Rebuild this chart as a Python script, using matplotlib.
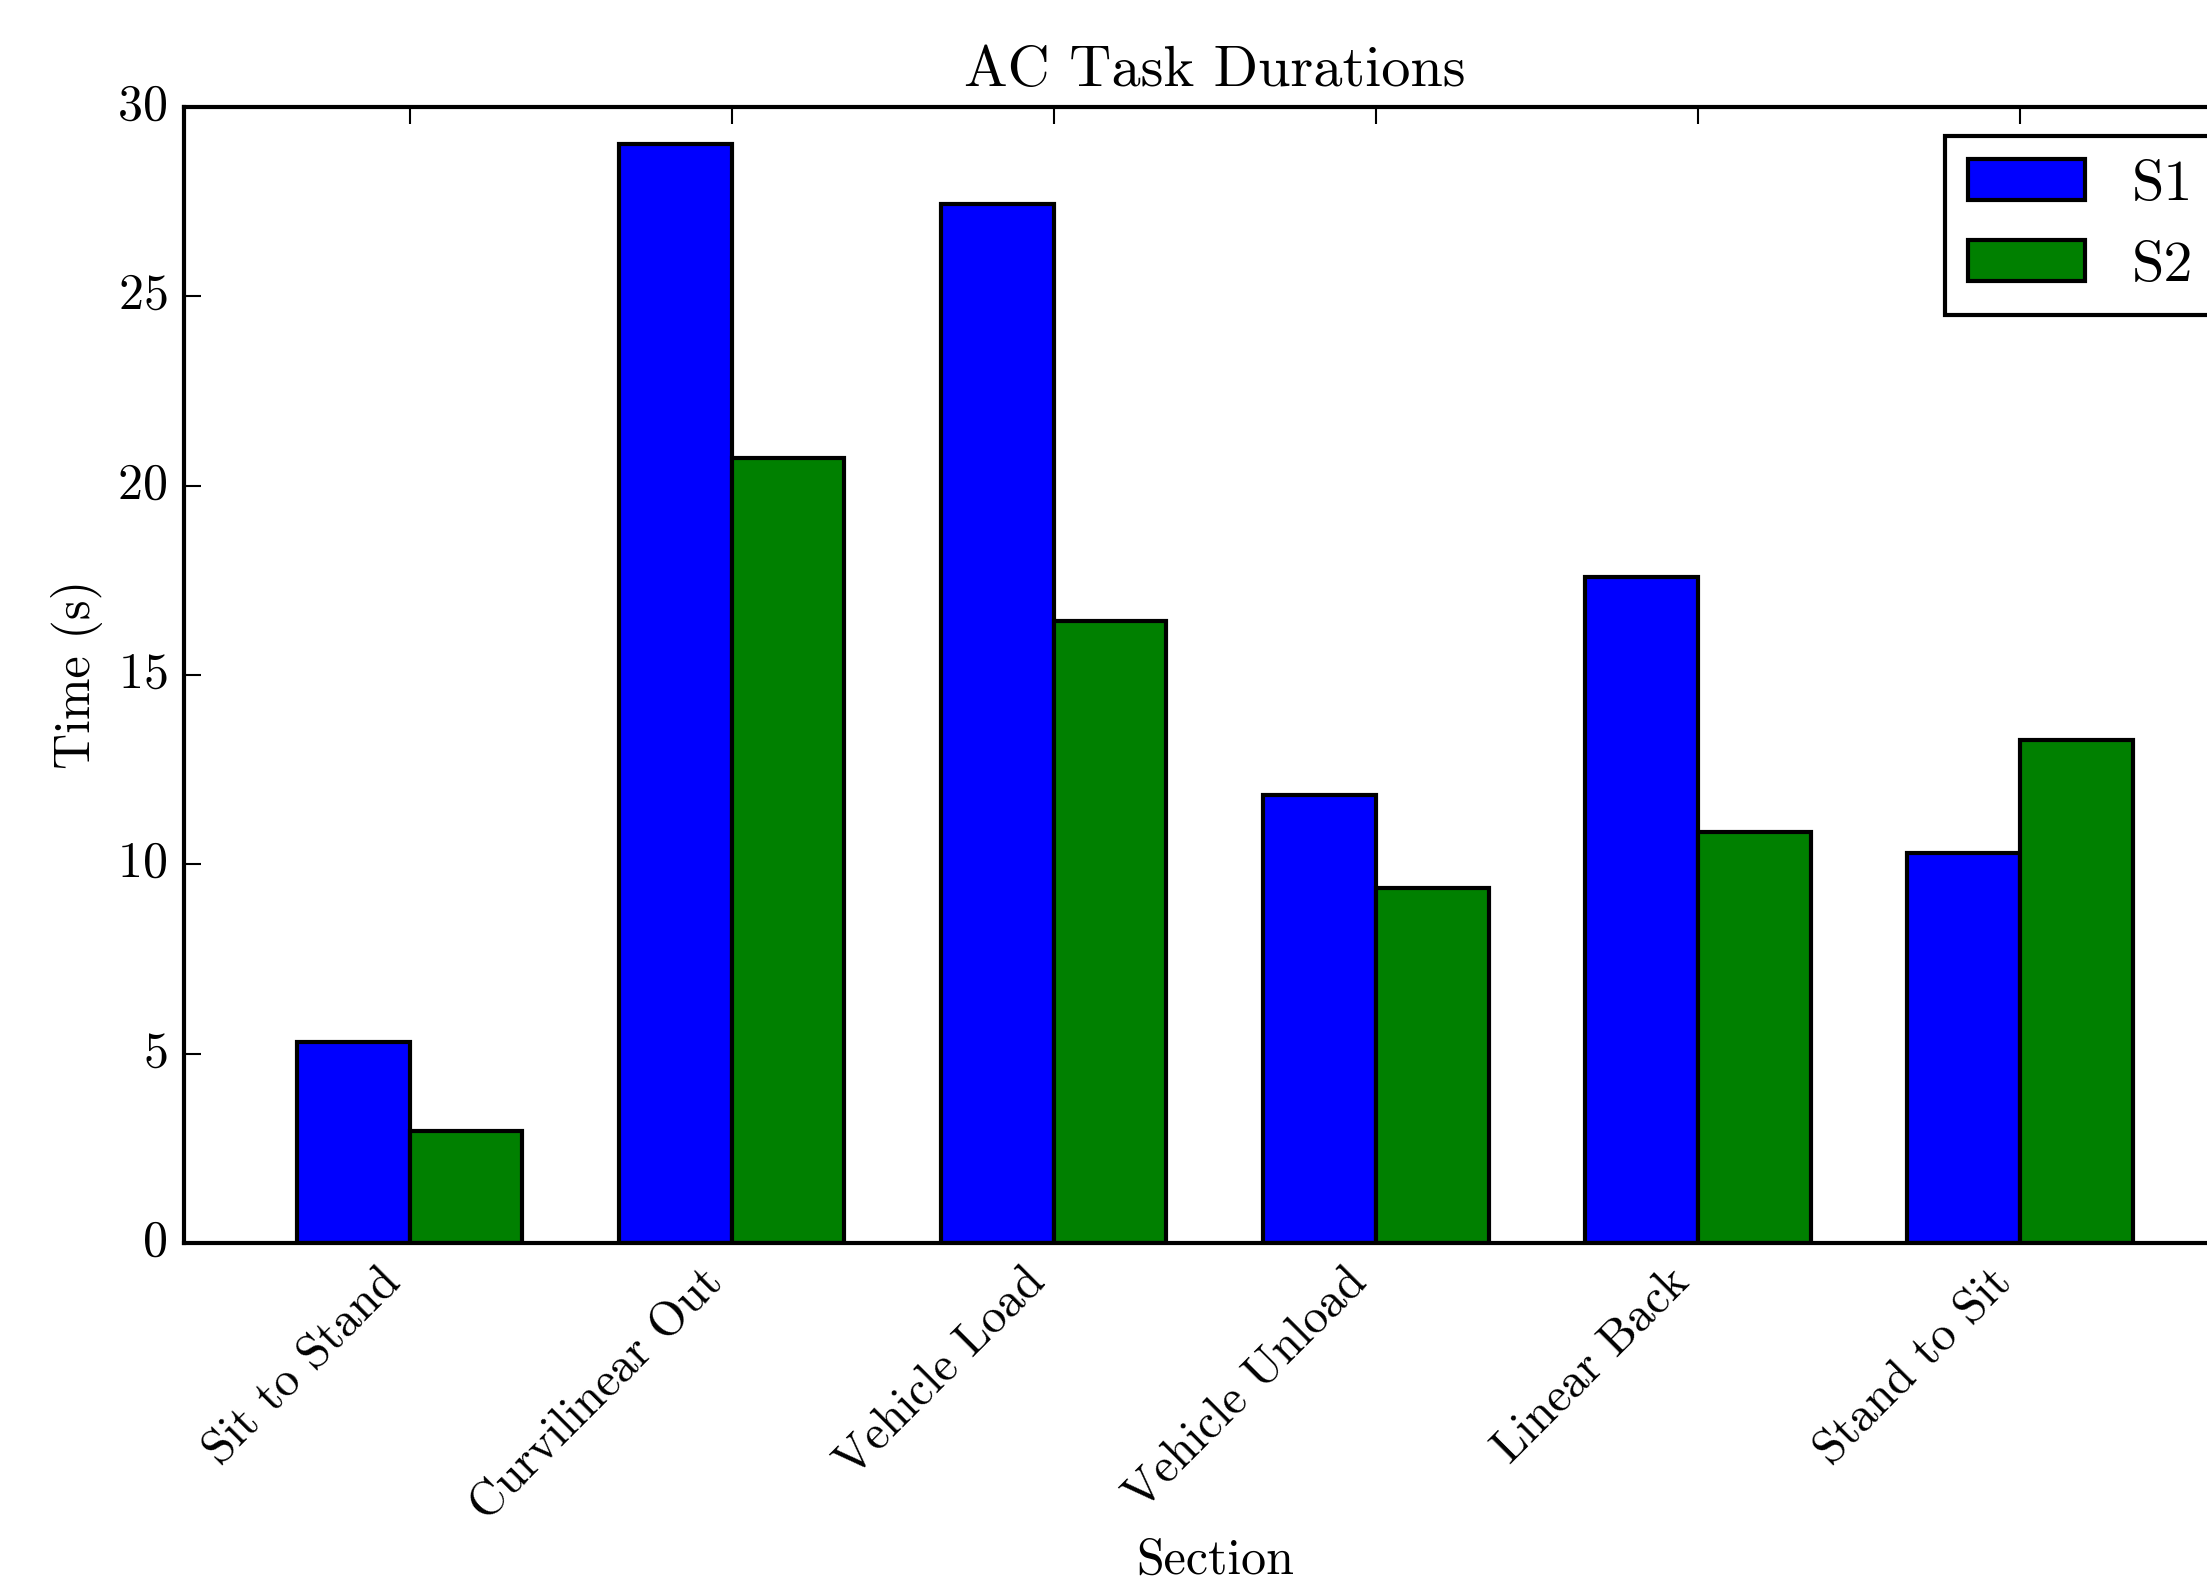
import numpy as np
import matplotlib
matplotlib.use("Agg")
import matplotlib.pyplot as plt

plt.style.use("classic")
plt.rcParams["font.family"] = "cmr10"
plt.rcParams["mathtext.fontset"] = "cm"
plt.rcParams["axes.formatter.use_mathtext"] = True
plt.rcParams["axes.unicode_minus"] = False

sections = ["Sit to Stand", "Curvilinear Out", "Vehicle Load",
            "Vehicle Unload", "Linear Back", "Stand to Sit"]
s1_times = [5.32, 29.03, 27.43, 11.82, 17.58, 10.30]
s2_times = [2.97, 20.74, 16.43, 9.37, 10.86, 13.27]
series_labels = ["S1", "S2"]
y_ticks = [0, 5, 10, 15, 20, 25, 30]

width = 0.35
ind = np.arange(len(sections))

fig = plt.figure(figsize=(2207 / 300, 1578 / 300), dpi=300, facecolor="white")
ax = fig.add_axes([0.0834, 0.2123, 0.934, 0.72])

ax.bar(ind + width, s1_times, width, align="edge", color="b",
       edgecolor="black", label=series_labels[0])
ax.bar(ind + 2 * width, s2_times, width, align="edge", color="g",
       edgecolor="black", label=series_labels[1])

ax.set_xticks(ind + 2 * width)
ax.set_xticklabels(sections, rotation=45, ha="right", fontsize=11.6)
ax.set_xlim(0, 6.4)
ax.set_ylim(0, 30)
ax.set_yticks(y_ticks)
ax.tick_params(axis="y", labelsize=12)

ax.set_title("AC Task Durations", fontsize=14)
ax.set_xlabel("Section", fontsize=12, labelpad=2)
ax.set_ylabel("Time (s)", fontsize=12, labelpad=3.5)
ax.legend(loc="upper right", fontsize=14)

fig.savefig("out.png", dpi=300, facecolor="white")
